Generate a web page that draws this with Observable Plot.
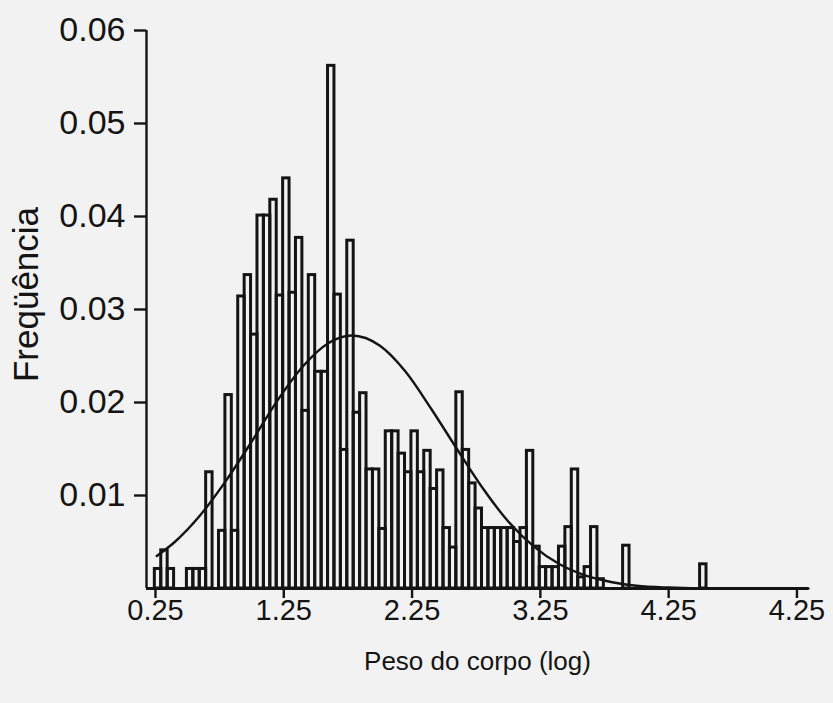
<!DOCTYPE html>
<html><head><meta charset="utf-8">
<script src="https://cdn.jsdelivr.net/npm/d3@7"></script>
<script src="https://cdn.jsdelivr.net/npm/@observablehq/plot@0.6"></script>
<style>
html,body{margin:0;padding:0;background:#f2f2f2;}
</style></head><body><div id="chart"></div>
<script>
// Histogram of log body weight: bins of 0.05 starting at binStart
const binStart = 0.245;
const binWidth = 0.05;
const frequencies = [
  0.0021, 0.0041, 0.0021, 0, 0, 0.0021, 0.0021, 0.0021, 0.0125, 0,
  0.0062, 0.0208, 0.0062, 0.0314, 0.0337, 0.0273, 0.0401, 0.0401, 0.0418, 0.0315,
  0.0441, 0.0318, 0.0377, 0.0191, 0.0337, 0.0233, 0.0233, 0.0562, 0.0316, 0.0149,
  0.0374, 0.0189, 0.0210, 0.0128, 0.0128, 0.0064, 0.0169, 0.0169, 0.0145, 0.0125,
  0.0169, 0.0125, 0.0148, 0.0107, 0.0127, 0.0065, 0.0044, 0.0211, 0.0149, 0.0113,
  0.0086, 0.0065, 0.0065, 0.0065, 0.0065, 0.0065, 0.0050, 0.0065, 0.0148, 0.0045,
  0.0023, 0.0023, 0.0023, 0.0045, 0.0066, 0.0128, 0.0012, 0.0023, 0.0066, 0.0010,
  0, 0, 0, 0.0046, 0, 0, 0, 0, 0, 0,
  0, 0, 0, 0, 0, 0.0026
];
// Fitted normal curve
const curveX = [0.26, 0.4, 0.6, 0.8, 1.0, 1.2, 1.4, 1.6, 1.78, 2.0, 2.2, 2.4, 2.6, 2.8, 3.0, 3.2, 3.4, 3.6, 3.8, 4.0, 4.25, 4.6, 5.0, 5.34];
const curveY = [0.0035, 0.0050, 0.0079, 0.0116, 0.0158, 0.0202, 0.0239, 0.0264, 0.0272, 0.0261, 0.0233, 0.0193, 0.0150, 0.0108, 0.0072, 0.0045, 0.0026, 0.0014, 0.0007, 0.0003, 0.0001, 0, 0, 0];
const xTickValues = [0.25, 1.25, 2.25, 3.25, 4.25, 5.25];
const xTickLabels = ["0.25", "1.25", "2.25", "3.25", "4.25", "4.25"];
const yTickValues = [0.01, 0.02, 0.03, 0.04, 0.05, 0.06];
const yTickLabels = ["0.01", "0.02", "0.03", "0.04", "0.05", "0.06"];
const xDomain = [0.18, 5.34];
const yDomain = [0, 0.06];
const xTitle = "Peso do corpo (log)";
const yTitle = "Freqüência";

const bins = frequencies
  .map((f, i) => ({x1: binStart + i * binWidth, x2: binStart + (i + 1) * binWidth, freq: f}))
  .filter(d => d.freq > 0);
const curve = curveX.map((x, i) => ({x, y: curveY[i]}));
const xLabelOf = new Map(xTickValues.map((v, i) => [v, xTickLabels[i]]));
const yLabelOf = new Map(yTickValues.map((v, i) => [v, yTickLabels[i]]));

const ink = "#141414";
const font = "'Liberation Sans', Arial, Helvetica, sans-serif";

const chart = Plot.plot({
  width: 833,
  height: 703,
  marginLeft: 146,
  marginRight: 25,
  marginTop: 30,
  marginBottom: 115,
  style: {background: "#f2f2f2", fontFamily: font, fontSize: "25px", color: ink},
  x: {domain: xDomain},
  y: {domain: yDomain},
  marks: [
    Plot.rectY(bins, {x1: "x1", x2: "x2", y: "freq", fill: "none", stroke: ink, strokeWidth: 3}),
    Plot.line(curve, {x: "x", y: "y", curve: "monotone-x", stroke: ink, strokeWidth: 2.4}),
    Plot.ruleY([0], {stroke: ink, strokeWidth: 3}),
    Plot.ruleX([xDomain[0]], {y1: yDomain[0], y2: yDomain[1], stroke: ink, strokeWidth: 2.4}),
    Plot.axisX({ticks: xTickValues, tickFormat: d => xLabelOf.get(d), tickSize: 10, tickPadding: 1,
      strokeWidth: 2.4, stroke: ink, fill: ink, fontSize: 29, fontFamily: font, label: null}),
    Plot.axisY({ticks: yTickValues, tickFormat: d => yLabelOf.get(d), tickSize: 12, tickPadding: 9,
      strokeWidth: 2.4, stroke: ink, fill: ink, fontSize: 34, fontFamily: font, label: null}),
    Plot.text([yTitle], {frameAnchor: "left", textAnchor: "middle", dx: -120, dy: -15, rotate: -90, fontSize: 35, fontFamily: font, fill: ink}),
    Plot.text([xTitle], {frameAnchor: "bottom", textAnchor: "middle", dy: 81, fontSize: 26, fontFamily: font, fill: ink})
  ]
});
document.getElementById("chart").appendChild(chart);
</script>
</body></html>
